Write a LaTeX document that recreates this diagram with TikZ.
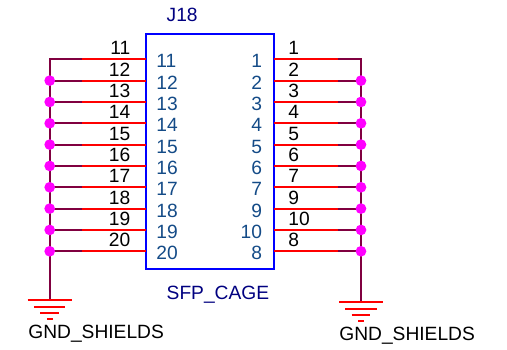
\documentclass[tikz,border=0pt]{standalone}
\usepackage{fontspec}
\setmainfont{Liberation Sans}
\usepackage{tikz}
\usetikzlibrary{calc}
\definecolor{wirered}{RGB}{255,0,0}
\definecolor{netpurple}{RGB}{128,0,64}
\definecolor{cageblue}{RGB}{0,0,255}
\definecolor{partnavy}{RGB}{0,0,128}
\definecolor{pinblue}{RGB}{20,75,135}
\definecolor{dotmagenta}{RGB}{255,0,255}
\tikzset{
	schtext/.style={inner sep=0pt,font=\fontsize{19.2}{19.2}\selectfont},
	netlabel/.style={schtext,text=black},
	pinlabel/.style={schtext,text=pinblue},
	partlabel/.style={schtext,text=partnavy},
	pinwire/.style={wirered,line width=2.2pt},
	netwire/.style={netpurple,line width=2.2pt},
	gndbar/.style={wirered,line width=2pt},
	junction/.style={circle,fill=dotmagenta,inner sep=0pt,minimum size=10.7pt}
}
\begin{document}
\begin{tikzpicture}[x=1pt,y=-1pt]
	\useasboundingbox (0,0) rectangle (507,350);
	
	% connector body
	\node[draw=cageblue,line width=2pt,minimum width=128pt,minimum height=234.7pt,inner sep=0pt] (cage) at (209.7,151.35) {};
	\node[partlabel,anchor=base west] (refdes) at (166.5,21.7) {J18};
	\node[partlabel,anchor=base west] (partname) at (166.5,300) {SFP\_CAGE};
	
	% bus ends
	\coordinate (busLtop) at (49.7,59.3);
	\coordinate (busRtop) at (361,59.3);
	\coordinate (gndL) at (49.7,300.3);
	\coordinate (gndR) at (361,302.3);
	
	% pins, both sides
	\foreach \row/\pinL/\pinR in {0/11/1,1/12/2,2/13/3,3/14/4,4/15/5,5/16/6,6/17/7,7/18/9,8/19/10,9/20/8}{
		\coordinate (pinL\row) at (145.7,59.3+21.33*\row);
		\coordinate (pinR\row) at (273.7,59.3+21.33*\row);
		\coordinate (endL\row) at (81.7,59.3+21.33*\row);
		\coordinate (endR\row) at (337.7,59.3+21.33*\row);
		\coordinate (tapL\row) at (49.7,59.3+21.33*\row);
		\coordinate (tapR\row) at (361,59.3+21.33*\row);
		\draw[netwire] (endL\row) -- (tapL\row);
		\draw[netwire] (endR\row) -- (tapR\row);
		\draw[pinwire] (pinL\row) -- (endL\row);
		\draw[pinwire] (pinR\row) -- (endR\row);
		\node[netlabel,anchor=base east] (netL\row) at ($(pinL\row)+(-15.2,-4.3)$) {\pinL};
		\node[netlabel,anchor=base west] (netR\row) at ($(pinR\row)+(14.5,-4.3)$) {\pinR};
		\node[pinlabel,anchor=base west] (numL\row) at ($(pinL\row)+(10.5,8.5)$) {\pinL};
		\node[pinlabel,anchor=base east] (numR\row) at ($(pinR\row)+(-11.5,8.5)$) {\pinR};
	}
	
	\draw[netwire,line cap=rect] (busLtop) -- (gndL);
	\draw[netwire,line cap=rect] (busRtop) -- (gndR);
	
	% junction dots
	\foreach \row in {1,...,9}{
		\node[junction] (dotL\row) at (tapL\row) {};
		\node[junction] (dotR\row) at (tapR\row) {};
	}
	
	% ground symbols
	\foreach \side in {gndL,gndR}{
		\draw[gndbar] ($(\side)+(-22,0)$) -- ($(\side)+(22,0)$);
		\draw[gndbar] ($(\side)+(-15.7,6.6)$) -- ($(\side)+(15.7,6.6)$);
		\draw[gndbar] ($(\side)+(-9.3,12.8)$) -- ($(\side)+(9.3,12.8)$);
		\draw[gndbar] ($(\side)+(-2.9,19)$) -- ($(\side)+(2.9,19)$);
	}
	\node[netlabel,anchor=base west] (gndnameL) at (28.2,338.3) {GND\_SHIELDS};
	\node[netlabel,anchor=base west] (gndnameR) at (339.2,340.7) {GND\_SHIELDS};
\end{tikzpicture}
\end{document}
